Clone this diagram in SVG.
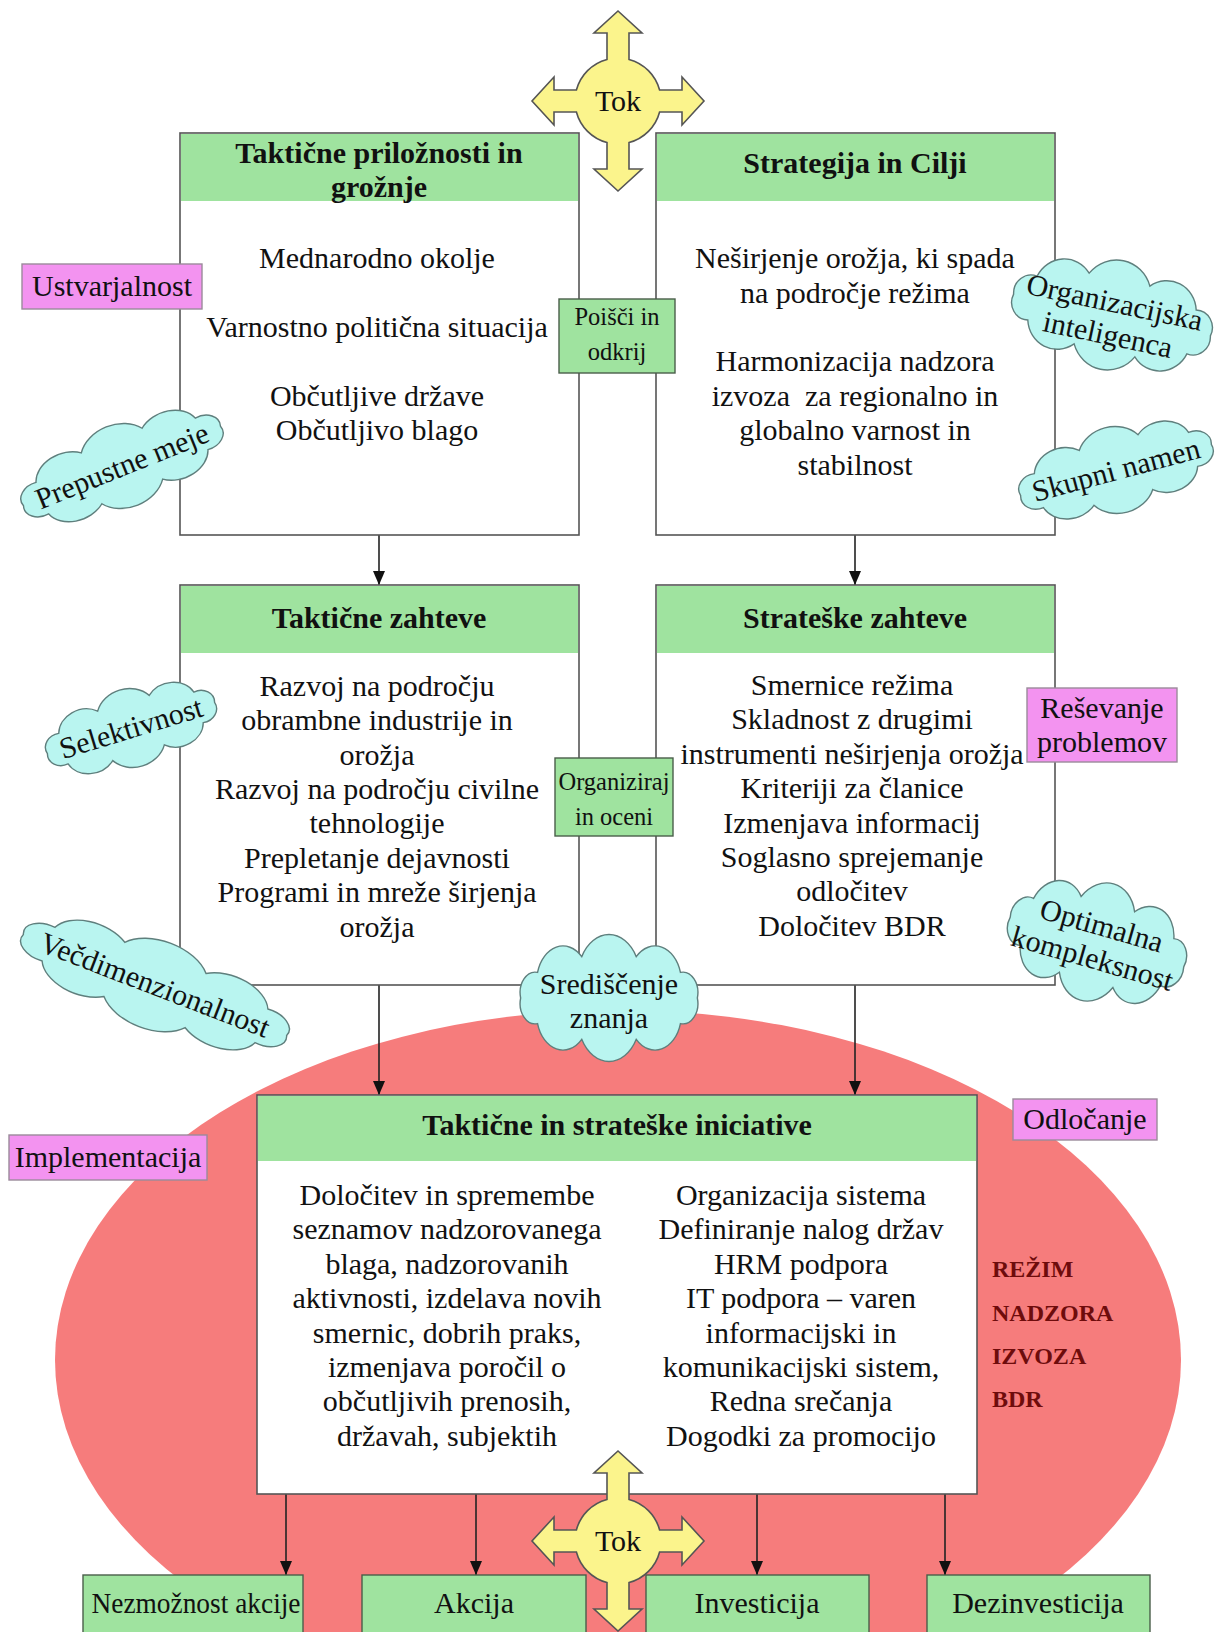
<svg xmlns="http://www.w3.org/2000/svg" xmlns:xlink="http://www.w3.org/1999/xlink" width="1217" height="1632" viewBox="0 0 1217 1632">
  <style>
    .t { font-family: "Liberation Serif", "Times New Roman", serif; font-size: 30px; fill: #111; text-anchor: middle; }
    .b { font-weight: bold; }
    .s { font-size: 24.5px; }
    .red { font-family: "Liberation Serif", "Times New Roman", serif; font-weight: bold; font-size: 24px; fill: #6e0c0c; }
    .box { fill: #ffffff; stroke: #555555; stroke-width: 1.6; }
    .head { fill: #9fe39f; }
    .proc { fill: #9fe39f; stroke: #4a5e4a; stroke-width: 1.4; }
    .pink { fill: #f393f0; stroke: #9b8a9b; stroke-width: 1.4; }
    .cloud { fill: #b9f5f0; stroke: #5f7f7d; stroke-width: 1.4; }
    .tok { fill: #fbf48c; stroke: #555555; stroke-width: 1.6; stroke-linejoin: miter; }
    .conn { stroke: #222222; stroke-width: 1.6; fill: none; marker-end: url(#arr); }
  </style>
  <defs>
    <marker id="arr" markerUnits="userSpaceOnUse" markerWidth="14" markerHeight="12" viewBox="0 0 14 12" refX="14" refY="6" orient="auto">
      <path d="M0,0 L14,6 L0,12 Z" fill="#111111"/>
    </marker>
    <path id="cloudShape" vector-effect="non-scaling-stroke" d="M94,0 A16,16 0 0 1 76,20 A28,28 0 0 1 29,32.3 A33,33 0 0 1 -29,32.3 A28,28 0 0 1 -76,20 A16,16 0 0 1 -94,0 A16,16 0 0 1 -76,-20 A28,28 0 0 1 -29,-32.3 A33,33 0 0 1 29,-32.3 A28,28 0 0 1 76,-20 A16,16 0 0 1 94,0 Z"/>
    <path id="tokShape" d="M0,-90 L24,-68 L11,-68 L11,-41.6 A43,43 0 0 1 41.6,-11 L64,-11 L64,-24 L86,0 L64,24 L64,11 L41.6,11 A43,43 0 0 1 11,41.6 L11,68 L24,68 L0,90 L-24,68 L-11,68 L-11,41.6 A43,43 0 0 1 -41.6,11 L-64,11 L-64,24 L-86,0 L-64,-24 L-64,-11 L-41.6,-11 A43,43 0 0 1 -11,-41.6 L-11,-68 L-24,-68 Z"/>
  </defs>

  <rect width="1217" height="1632" fill="#ffffff"/>

  <!-- regime area -->
  <ellipse id="regime-area" cx="618" cy="1360" rx="563" ry="350" fill="#f67c7c"/>

  <!-- connectors -->
  <g id="connectors">
    <line class="conn" x1="379" y1="535" x2="379" y2="585"/>
    <line class="conn" x1="855" y1="535" x2="855" y2="585"/>
    <line class="conn" x1="379" y1="985" x2="379" y2="1095"/>
    <line class="conn" x1="855" y1="985" x2="855" y2="1095"/>
    <line class="conn" x1="286" y1="1494" x2="286" y2="1575"/>
    <line class="conn" x1="476" y1="1494" x2="476" y2="1575"/>
    <line class="conn" x1="757" y1="1494" x2="757" y2="1575"/>
    <line class="conn" x1="945" y1="1494" x2="945" y2="1575"/>
  </g>

  <!-- top left: tactical opportunities -->
  <g id="tactical-opportunities">
    <rect class="box" x="180" y="133" width="399" height="402"/>
    <rect class="head" x="181" y="134" width="397" height="67"/>
    <text class="t b" x="379" y="163">Taktične priložnosti in</text>
    <text class="t b" x="379" y="197">grožnje</text>
    <text class="t" x="377" y="268">Mednarodno okolje</text>
    <text class="t" x="377" y="337">Varnostno politična situacija</text>
    <text class="t" x="377" y="406">Občutljive države</text>
    <text class="t" x="377" y="440">Občutljivo blago</text>
  </g>

  <!-- top right: strategy and goals -->
  <g id="strategy-goals">
    <rect class="box" x="656" y="133" width="399" height="402"/>
    <rect class="head" x="657" y="134" width="397" height="67"/>
    <text class="t b" x="855" y="173">Strategija in Cilji</text>
    <text class="t" x="855" y="268">Neširjenje orožja, ki spada</text>
    <text class="t" x="855" y="303">na področje režima</text>
    <text class="t" x="855" y="371">Harmonizacija nadzora</text>
    <text class="t" x="855" y="406" xml:space="preserve">izvoza  za regionalno in</text>
    <text class="t" x="855" y="440">globalno varnost in</text>
    <text class="t" x="855" y="475">stabilnost</text>
  </g>

  <!-- middle left: tactical requirements -->
  <g id="tactical-requirements">
    <rect class="box" x="180" y="585" width="399" height="400"/>
    <rect class="head" x="181" y="586" width="397" height="67"/>
    <text class="t b" x="379" y="628">Taktične zahteve</text>
    <text class="t" x="377" y="696">Razvoj na področju</text>
    <text class="t" x="377" y="730">obrambne industrije in</text>
    <text class="t" x="377" y="765">orožja</text>
    <text class="t" x="377" y="799">Razvoj na področju civilne</text>
    <text class="t" x="377" y="833">tehnologije</text>
    <text class="t" x="377" y="868">Prepletanje dejavnosti</text>
    <text class="t" x="377" y="902">Programi in mreže širjenja</text>
    <text class="t" x="377" y="937">orožja</text>
  </g>

  <!-- middle right: strategic requirements -->
  <g id="strategic-requirements">
    <rect class="box" x="656" y="585" width="399" height="400"/>
    <rect class="head" x="657" y="586" width="397" height="67"/>
    <text class="t b" x="855" y="628">Strateške zahteve</text>
    <text class="t" x="852" y="695">Smernice režima</text>
    <text class="t" x="852" y="729">Skladnost z drugimi</text>
    <text class="t" x="852" y="764">instrumenti neširjenja orožja</text>
    <text class="t" x="852" y="798">Kriteriji za članice</text>
    <text class="t" x="852" y="833">Izmenjava informacij</text>
    <text class="t" x="852" y="867">Soglasno sprejemanje</text>
    <text class="t" x="852" y="901">odločitev</text>
    <text class="t" x="852" y="936">Določitev BDR</text>
  </g>

  <!-- bottom: initiatives -->
  <g id="initiatives">
    <rect class="box" x="257" y="1095" width="720" height="399"/>
    <rect class="head" x="258" y="1096" width="718" height="65"/>
    <text class="t b" x="617" y="1135">Taktične in strateške iniciative</text>
    <text class="t" x="447" y="1205">Določitev in spremembe</text>
    <text class="t" x="447" y="1239">seznamov nadzorovanega</text>
    <text class="t" x="447" y="1274">blaga, nadzorovanih</text>
    <text class="t" x="447" y="1308">aktivnosti, izdelava novih</text>
    <text class="t" x="447" y="1343">smernic, dobrih praks,</text>
    <text class="t" x="447" y="1377">izmenjava poročil o</text>
    <text class="t" x="447" y="1411">občutljivih prenosih,</text>
    <text class="t" x="447" y="1446">državah, subjektih</text>
    <text class="t" x="801" y="1205">Organizacija sistema</text>
    <text class="t" x="801" y="1239">Definiranje nalog držav</text>
    <text class="t" x="801" y="1274">HRM podpora</text>
    <text class="t" x="801" y="1308">IT podpora – varen</text>
    <text class="t" x="801" y="1343">informacijski in</text>
    <text class="t" x="801" y="1377">komunikacijski sistem,</text>
    <text class="t" x="801" y="1411">Redna srečanja</text>
    <text class="t" x="801" y="1446">Dogodki za promocijo</text>
  </g>

  <!-- process steps between columns -->
  <g id="find-discover">
    <rect class="proc" x="559" y="299" width="116" height="74"/>
    <text class="t s" x="617" y="325">Poišči in</text>
    <text class="t s" x="617" y="360">odkrij</text>
  </g>
  <g id="organise-assess">
    <rect class="proc" x="555" y="758" width="118" height="78"/>
    <text class="t s" x="614" y="790">Organiziraj</text>
    <text class="t s" x="614" y="825">in oceni</text>
  </g>

  <!-- competence labels -->
  <g id="creativity">
    <rect class="pink" x="22" y="264" width="180" height="45"/>
    <text class="t" x="112" y="296">Ustvarjalnost</text>
  </g>
  <g id="problem-solving">
    <rect class="pink" x="1027" y="688" width="150" height="74"/>
    <text class="t" x="1102" y="718">Reševanje</text>
    <text class="t" x="1102" y="752">problemov</text>
  </g>
  <g id="decision-making">
    <rect class="pink" x="1013" y="1099" width="144" height="41"/>
    <text class="t" x="1085" y="1129">Odločanje</text>
  </g>
  <g id="implementation">
    <rect class="pink" x="9" y="1135" width="198" height="45"/>
    <text class="t" x="108" y="1167">Implementacija</text>
  </g>

  <!-- clouds -->
  <g id="org-intelligence" transform="translate(1112,315) rotate(12)">
    <use xlink:href="#cloudShape" class="cloud" transform="scale(1.07,1.12)"/>
    <text class="t" x="0" y="-3">Organizacijska</text>
    <text class="t" x="0" y="30">inteligenca</text>
  </g>
  <g id="common-purpose" transform="translate(1116,470) rotate(-15)">
    <use xlink:href="#cloudShape" class="cloud" transform="scale(1.05,0.88)"/>
    <text class="t" x="0" y="10">Skupni namen</text>
  </g>
  <g id="permeable-borders" transform="translate(122,466) rotate(-22)">
    <use xlink:href="#cloudShape" class="cloud" transform="scale(1.13,0.85)"/>
    <text class="t" x="0" y="10">Prepustne meje</text>
  </g>
  <g id="selectivity" transform="translate(131,728) rotate(-17)">
    <use xlink:href="#cloudShape" class="cloud" transform="scale(0.93,0.8)"/>
    <text class="t" x="0" y="10">Selektivnost</text>
  </g>
  <g id="multidimensionality" transform="translate(155,985) rotate(21)">
    <use xlink:href="#cloudShape" class="cloud" transform="scale(1.5,0.9)"/>
    <text class="t" x="0" y="10">Večdimenzionalnost</text>
  </g>
  <g id="knowledge-centring" transform="translate(609,998)">
    <use xlink:href="#cloudShape" class="cloud" transform="scale(0.94,1.28)"/>
    <text class="t" x="0" y="-4">Središčenje</text>
    <text class="t" x="0" y="30">znanja</text>
  </g>
  <g id="optimal-complexity" transform="translate(1097,942) rotate(16)">
    <use xlink:href="#cloudShape" class="cloud" transform="scale(0.96,1.22)"/>
    <text class="t" x="0" y="-7">Optimalna</text>
    <text class="t" x="0" y="27">kompleksnost</text>
  </g>

  <!-- regime title -->
  <g id="regime-title">
    <text class="red" x="992" y="1277">REŽIM</text>
    <text class="red" x="992" y="1321">NADZORA</text>
    <text class="red" x="992" y="1364">IZVOZA</text>
    <text class="red" x="992" y="1407">BDR</text>
  </g>

  <!-- outcomes -->
  <g id="no-action">
    <rect class="proc" x="83" y="1575" width="220" height="70"/>
    <text class="t" x="196" y="1613" font-size="28" textLength="209" lengthAdjust="spacingAndGlyphs">Nezmožnost akcije</text>
  </g>
  <g id="action">
    <rect class="proc" x="362" y="1575" width="224" height="70"/>
    <text class="t" x="474" y="1613">Akcija</text>
  </g>
  <g id="investment">
    <rect class="proc" x="646" y="1575" width="223" height="70"/>
    <text class="t" x="757" y="1613">Investicija</text>
  </g>
  <g id="divestment">
    <rect class="proc" x="927" y="1575" width="223" height="70"/>
    <text class="t" x="1038" y="1613">Dezinvesticija</text>
  </g>

  <!-- flow symbols -->
  <g id="flow-top" transform="translate(618,101)">
    <use xlink:href="#tokShape" class="tok"/>
    <text class="t" x="0" y="10" font-size="28">Tok</text>
  </g>
  <g id="flow-bottom" transform="translate(618,1541)">
    <use xlink:href="#tokShape" class="tok"/>
    <text class="t" x="0" y="10" font-size="28">Tok</text>
  </g>
</svg>
